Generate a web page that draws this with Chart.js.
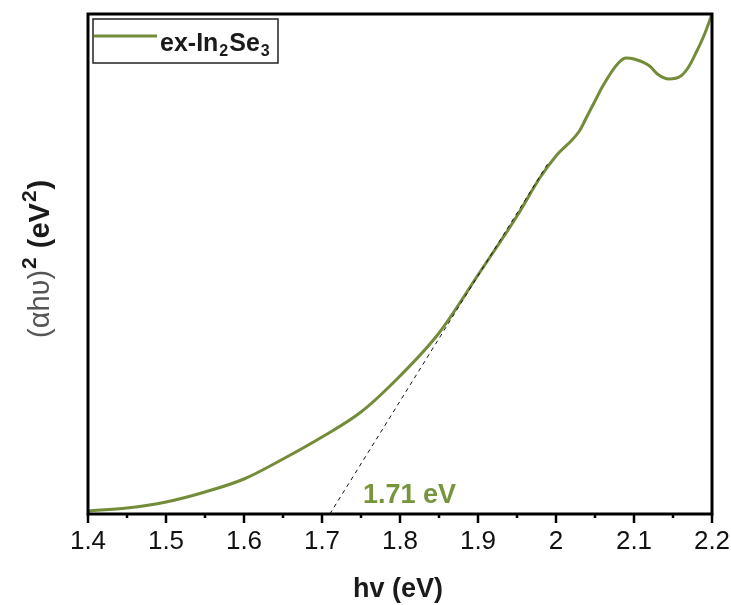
<!DOCTYPE html>
<html>
<head>
<meta charset="utf-8">
<script src="https://cdn.jsdelivr.net/npm/chart.js@4.4.1/dist/chart.umd.min.js"></script>
<style>
  html, body { margin: 0; padding: 0; background: #fff; }
  #wrap { width: 731px; height: 605px; position: relative; }
</style>
</head>
<body>
<div id="wrap"><canvas id="tauc"></canvas></div>
<script>
// photon energy (eV) and (alpha h nu)^2 in arbitrary units
const hvValues = [1.40, 1.45, 1.50, 1.55, 1.60, 1.65, 1.70, 1.75, 1.80, 1.85, 1.90, 1.95, 1.98,
                  2.00, 2.03, 2.04, 2.05, 2.06, 2.08, 2.09, 2.10, 2.12, 2.13, 2.145, 2.16, 2.17, 2.18, 2.19, 2.20];
const absValues = [3, 6, 12, 22, 35, 55, 77, 102, 138, 181, 239, 298, 337,
                   358, 383, 398, 413, 428, 451, 456, 455, 448, 440, 435, 438, 447, 462, 479, 500];

// linear fit of the band edge, crossing zero at 1.71 eV
const fitHv = [1.71, 1.99];
const fitAbs = [0, 351];

const xTicks = [1.4, 1.5, 1.6, 1.7, 1.8, 1.9, 2.0, 2.1, 2.2];
const bandGapLabel = '1.71 eV';

const olive = '#728c3a';

const framePlugin = {
    id: 'frame',
    afterDraw(chart) {
        const { ctx, chartArea: a, scales: { x } } = chart;
        ctx.save();
        ctx.strokeStyle = '#000';
        ctx.lineWidth = 3;
        ctx.strokeRect(a.left, a.top, a.right - a.left, a.bottom - a.top);
        ctx.lineWidth = 2.5;
        for (let i = 0; i <= 16; i++) {
            const v = 1.4 + i * 0.05;
            const px = x.getPixelForValue(v);
            const len = i % 2 === 0 ? 9 : 4;
            ctx.beginPath();
            ctx.moveTo(px, a.bottom);
            ctx.lineTo(px, a.bottom + len);
            ctx.stroke();
        }
        ctx.restore();
    }
};

const textPlugin = {
    id: 'texts',
    afterDraw(chart) {
        const { ctx } = chart;
        ctx.save();

        // legend box
        ctx.strokeStyle = '#222';
        ctx.lineWidth = 1.5;
        ctx.strokeRect(93, 19, 185, 44);
        ctx.strokeStyle = olive;
        ctx.lineWidth = 3;
        ctx.beginPath();
        ctx.moveTo(94, 36);
        ctx.lineTo(157, 36);
        ctx.stroke();

        ctx.fillStyle = '#1a1a1a';
        ctx.textBaseline = 'alphabetic';
        ctx.textAlign = 'left';
        let tx = 160;
        const base = 51;
        const parts = [['ex-In', 'bold 25px "Liberation Sans"', 0],
                       ['2', 'bold 16px "Liberation Sans"', 5],
                       ['Se', 'bold 25px "Liberation Sans"', 0],
                       ['3', 'bold 16px "Liberation Sans"', 5]];
        parts.forEach(([t, f, dy]) => {
            ctx.font = f;
            ctx.fillText(t, tx, base + dy);
            tx += ctx.measureText(t).width + 1;
        });

        // band gap annotation
        ctx.fillStyle = '#76953d';
        ctx.font = 'bold 27px "Liberation Sans"';
        ctx.fillText(bandGapLabel, 363, 503);

        // x title
        ctx.fillStyle = '#1a1a1a';
        ctx.font = 'bold 27px "Liberation Sans"';
        ctx.textAlign = 'center';
        ctx.fillText('hv (eV)', 398, 597);

        // y title, rotated
        ctx.translate(49, 338);
        ctx.rotate(-Math.PI / 2);
        ctx.textAlign = 'left';
        let ty = 0;
        const yparts = [['(\u03B1h\u03C5)', '29px "Liberation Sans"', 0, '#555'],
                        ['2', 'bold 21px "Liberation Sans"', -13, '#1a1a1a'],
                        [' (eV', 'bold 29px "Liberation Sans"', 0, '#1a1a1a'],
                        ['2', 'bold 21px "Liberation Sans"', -13, '#1a1a1a'],
                        [')', 'bold 29px "Liberation Sans"', 0, '#1a1a1a']];
        yparts.forEach(([t, f, dy, c]) => {
            ctx.font = f;
            ctx.fillStyle = c;
            ctx.fillText(t, ty, dy);
            ty += ctx.measureText(t).width + 1;
        });
        ctx.restore();
    }
};

new Chart(document.getElementById('tauc').getContext('2d'), {
    type: 'line',
    data: {
        datasets: [
            {
                label: 'fit',
                data: fitHv.map((v, i) => ({ x: v, y: fitAbs[i] })),
                borderColor: '#111', borderWidth: 1, borderDash: [4, 4],
                pointRadius: 0, fill: false, order: 0
            },
            {
                label: 'ex-In2Se3',
                data: hvValues.map((v, i) => ({ x: v, y: absValues[i] })),
                borderColor: olive, borderWidth: 3, cubicInterpolationMode: 'monotone',
                pointRadius: 0, fill: false, order: 1
            }
        ]
    },
    options: {
        responsive: true, maintainAspectRatio: false, animation: false,
        layout: { padding: { top: 14, right: 19, left: 88, bottom: 0 } },
        plugins: { legend: { display: false }, tooltip: { enabled: false } },
        scales: {
            x: {
                type: 'linear', min: 1.4, max: 2.2,
                afterFit: s => { s.height = 91; s.paddingLeft = 0; s.paddingRight = 0; },
                afterBuildTicks: s => { s.ticks = xTicks.map(v => ({ value: v })); },
                grid: { display: false, drawTicks: false },
                border: { display: false },
                ticks: {
                    padding: 12, color: '#111',
                    font: { family: 'Liberation Sans', size: 26 },
                    callback: v => String(Math.round(v * 10) / 10)
                }
            },
            y: { display: false, min: 0, max: 500 }
        }
    },
    plugins: [framePlugin, textPlugin]
});
</script>
</body>
</html>
